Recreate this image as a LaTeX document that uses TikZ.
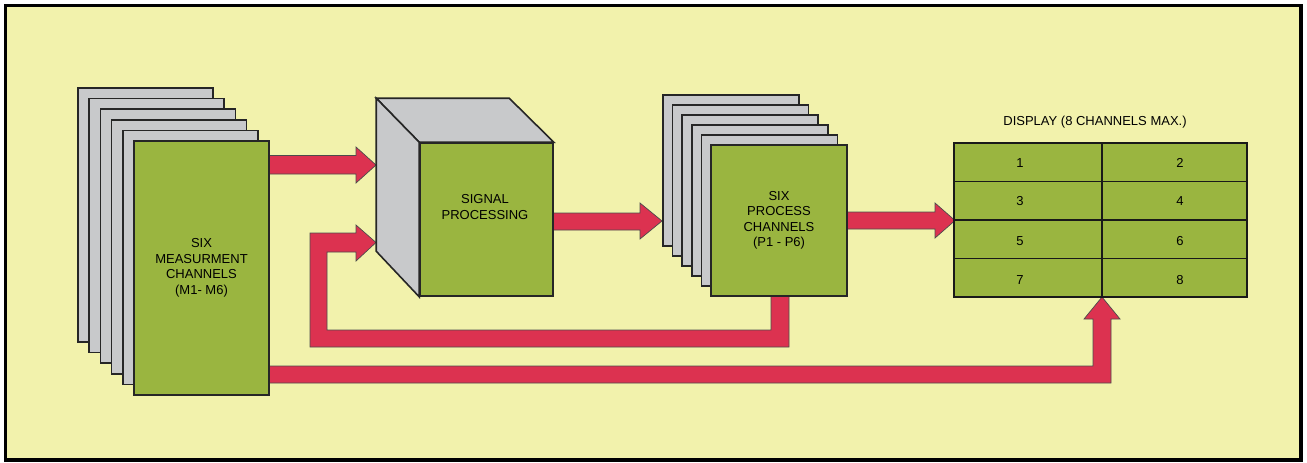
\documentclass[tikz,border=0pt]{standalone}
\usepackage{fontspec}
\setmainfont{Liberation Sans}
\definecolor{bg}{RGB}{242,242,172}
\definecolor{grn}{RGB}{154,181,64}
\definecolor{gry}{RGB}{200,201,203}
\definecolor{rd}{RGB}{220,50,80}
\begin{document}
\begin{tikzpicture}[x=1pt,y=-1pt,
  font=\fontsize{13}{15.5}\selectfont,
  sheet/.style={draw=black!85, line width=1.6pt, fill=gry, line join=miter},
  frontbox/.style={draw=black!85, line width=1.6pt, fill=grn, inner sep=0pt, align=center},
  cell/.style={draw=black!90, line width=1.6pt, fill=grn, inner sep=0pt, minimum height=38.5pt},
  blockarrow/.style={fill=rd, draw=black!70, line width=0.7pt, line join=miter},
  lbl/.style={align=center, inner sep=0pt}]
% frame
\path[use as bounding box] (0,0) rectangle (1307,463);
\draw[line width=3.5pt, fill=bg] (5.5,5.5) rectangle (1301,460);

% block arrows (drawn first, boxes on top)
\coordinate (a1s) at (269,164.5);
\coordinate (a2s) at (553,221.5);
\coordinate (a3s) at (847,220.5);
\coordinate (a4s) at (269,374.5);
\coordinate (fbs) at (780,296);
\draw[blockarrow] (269,155.5) -- (356,155.5) -- (356,147) -- (376,165) -- (356,183) -- (356,174) -- (269,174) -- cycle;
\draw[blockarrow] (789,296) -- (789,347) -- (310,347) -- (310,233) -- (356,233) -- (356,225) -- (376,242.5) -- (356,261) -- (356,252) -- (327,252) -- (327,330) -- (771,330) -- (771,296) -- cycle;
\draw[blockarrow] (553,213) -- (640,213) -- (640,203) -- (662,221) -- (640,239) -- (640,230) -- (553,230) -- cycle;
\draw[blockarrow] (847,212) -- (935,212) -- (935,203) -- (955,220.5) -- (935,238) -- (935,229) -- (847,229) -- cycle;
\draw[blockarrow] (269,366) -- (1093,366) -- (1093,319) -- (1084,319) -- (1102,297) -- (1120,319) -- (1111,319) -- (1111,383) -- (269,383) -- cycle;

% measurement channels stack
\foreach \i in {0,...,4}
  \draw[sheet] ({78+11.2*\i},{88+10.6*\i}) rectangle ++(135,254);
\node[frontbox, minimum width=135pt, minimum height=254pt] (m) at (201.5,268)
  {SIX\\MEASURMENT\\CHANNELS\\(M1- M6)};

% signal processing cube
\node[frontbox, minimum width=133pt, minimum height=153pt] (sp) at (486.5,219.5) {};
\draw[sheet] (sp.north west) -- ++(-43,-44) -- ++(133,0) -- (sp.north east) -- cycle;
\draw[sheet] (sp.north west) -- ++(-43,-44) -- ++(0,153) -- (sp.south west) -- cycle;
\node[lbl] (spl) at (485,207) {SIGNAL\\PROCESSING};

% process channels stack
\foreach \i in {0,...,4}
  \draw[sheet] ({663+9.6*\i},{95+10*\i}) rectangle ++(136,151);
\node[frontbox, minimum width=136pt, minimum height=151pt] (p) at (779,220.5)
  {SIX\\PROCESS\\CHANNELS\\(P1 - P6)};

% display
\node[lbl] (dt) at (1095,122) {DISPLAY (8 CHANNELS MAX.)};
\foreach \r in {0,...,3} {
  \node[cell, minimum width=148pt] (cl\r) at (1028,{162.25+38.5*\r}) {};
  \node[cell, minimum width=145pt] (cr\r) at (1174.5,{162.25+38.5*\r}) {};
}
\node[lbl] (n1) at (1020,163) {1};
\node[lbl] (n2) at (1180,163) {2};
\node[lbl] (n3) at (1020,201) {3};
\node[lbl] (n4) at (1180,201) {4};
\node[lbl] (n5) at (1020,241) {5};
\node[lbl] (n6) at (1180,241) {6};
\node[lbl] (n7) at (1020,280) {7};
\node[lbl] (n8) at (1180,280) {8};
\end{tikzpicture}
\end{document}
